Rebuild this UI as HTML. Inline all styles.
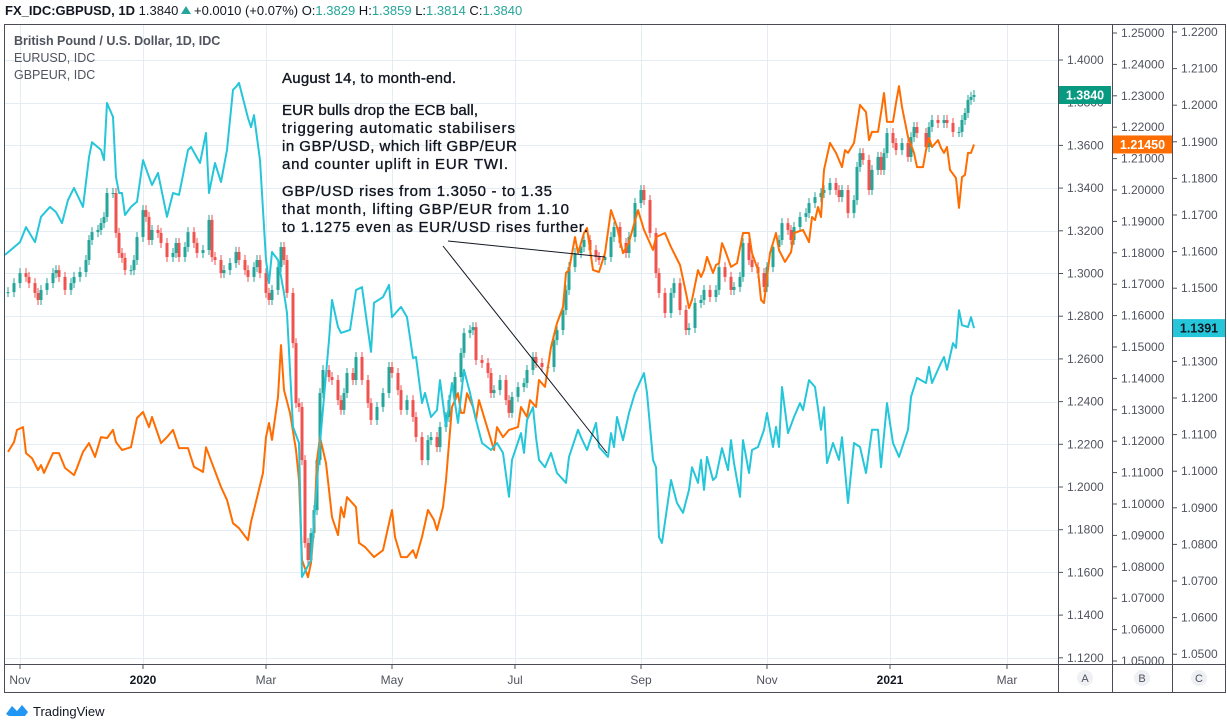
<!DOCTYPE html>
<html><head><meta charset="utf-8">
<style>
html,body{margin:0;padding:0;background:#fff;}
body{width:1227px;height:723px;overflow:hidden;font-family:"Liberation Sans",sans-serif;}
svg text{font-family:"Liberation Sans",sans-serif;}
</style></head>
<body>
<svg id="chart" width="1227" height="723" viewBox="0 0 1227 723" xmlns="http://www.w3.org/2000/svg">
  <g id="grid"></g>
  <g id="series"></g>
  <g id="frame">
    <rect x="4.5" y="24.5" width="1221" height="668" fill="none" stroke="#4a4d57" stroke-width="1"/>
    <line x1="1058.5" y1="24" x2="1058.5" y2="693" stroke="#4a4d57"/>
    <line x1="1112.5" y1="24" x2="1112.5" y2="693" stroke="#4a4d57"/>
    <line x1="1172.5" y1="24" x2="1172.5" y2="693" stroke="#4a4d57"/>
    <line x1="4" y1="664.5" x2="1226" y2="664.5" stroke="#4a4d57"/>
  </g>
  <g id="axes"></g>
  <g font-size="13">
    <text x="5" y="15" fill="#131722"><tspan font-weight="bold">FX_IDC:GBPUSD, 1D</tspan> 1.3840</text>
    <path d="M181 14 L186 6 L191 14 Z" fill="#26a69a"/>
    <text x="194" y="15" fill="#131722">+0.0010 (+0.07%) O:<tspan fill="#26a69a">1.3829</tspan> H:<tspan fill="#26a69a">1.3859</tspan> L:<tspan fill="#26a69a">1.3814</tspan> C:<tspan fill="#26a69a">1.3840</tspan></text>
  </g>
  <g font-size="12.5" fill="#50535e">
    <text x="14" y="45" font-weight="bold">British Pound / U.S. Dollar, 1D, IDC</text>
    <text x="14" y="62">EURUSD, IDC</text>
    <text x="14" y="79">GBPEUR, IDC</text>
  </g>
  <g font-size="15" fill="#131722" stroke="#131722" stroke-width="0.35" lengthAdjust="spacing">
    <text x="282" y="83" textLength="174">August 14, to month-end.</text>
    <text x="282" y="115" textLength="196">EUR bulls drop the ECB ball,</text>
    <text x="282" y="133" textLength="233">triggering automatic stabilisers</text>
    <text x="282" y="151" textLength="235">in GBP/USD, which lift GBP/EUR</text>
    <text x="282" y="169" textLength="226">and counter uplift in EUR TWI.</text>
    <text x="282" y="196" textLength="270">GBP/USD rises from 1.3050 - to 1.35</text>
    <text x="282" y="214" textLength="287">that month, lifting GBP/EUR from 1.10</text>
    <text x="282" y="232" textLength="306">to 1.1275 even as EUR/USD rises further.</text>
  </g>
  <g stroke="#131722" stroke-width="1">
    <line x1="448" y1="241" x2="605" y2="257"/>
    <line x1="443" y1="246" x2="607" y2="453"/>
  </g>
  <g>
    <path d="M6 714 L12 706 L17 711 L22 705 L28 712 L25 716 L9 716 Z" fill="#2196f3"/>
    <text x="33" y="716" font-size="13" fill="#131722">TradingView</text>
  </g>
</svg>
<script>
// GBPUSD candles (bar index, close)
const gbpIdx=[1,3,5,7,8,10,11,12,14,16,17,18,20,22,23,25,27,28,29,31,32,33,34,36,37,38,39,40,42,43,44,46,47,48,49,51,52,54,56,57,58,60,61,63,64,66,68,69,70,72,73,75,77,78,80,81,83,84,85,87,88,89,91,92,93,94,96,97,98,99,100,101,102,103,104,105,106,108,109,111,112,113,114,116,117,119,121,122,124,126,128,129,131,132,134,136,137,139,141,142,144,145,147,148,150,152,153,155,156,157,159,161,162,163,165,167,168,169,171,173,174,176,177,179,181,183,184,186,187,188,190,192,193,195,197,198,200,202,203,205,207,208,210,212,213,215,217,218,220,222,223,225,227,228,230,232,233,235,237,238,240,242,243,245,246,248,249,251,253,254,256,258,259,261,262,263,265,267,268,270,272,273,275,277,278,279,281,283,284,285,286,288,289,291,292,293,294,296,297,299,301,302,303,304,307,308,309,311,313,314,316,318,319,320,321,322,323];
const gbpClose=[1.2913,1.2955,1.3002,1.2984,1.2955,1.2909,1.2876,1.2923,1.2955,1.3002,1.3016,1.2984,1.2923,1.2955,1.2984,1.3007,1.3063,1.3157,1.3194,1.3204,1.3236,1.3265,1.3377,1.3377,1.3190,1.3096,1.3073,1.3016,1.3016,1.3063,1.3171,1.3297,1.3265,1.3157,1.3204,1.3190,1.3143,1.3077,1.3096,1.3143,1.3077,1.3124,1.3194,1.3143,1.3096,1.3110,1.3251,1.3077,1.3063,1.3002,1.3016,1.3049,1.3101,1.3063,1.3016,1.2984,1.3030,1.3063,1.3002,1.2909,1.2876,1.2923,1.3030,1.3124,1.3063,1.2909,1.2674,1.2393,1.2375,1.2126,1.1738,1.1658,1.1784,1.1892,1.2126,1.2440,1.2548,1.2515,1.2501,1.2407,1.2361,1.2440,1.2534,1.2501,1.2609,1.2501,1.2393,1.2314,1.2375,1.2440,1.2562,1.2534,1.2454,1.2361,1.2407,1.2328,1.2234,1.2126,1.2220,1.2234,1.2187,1.2281,1.2328,1.2407,1.2515,1.2628,1.2721,1.2735,1.2749,1.2595,1.2581,1.2534,1.2440,1.2454,1.2501,1.2407,1.2347,1.2422,1.2468,1.2487,1.2548,1.2609,1.2581,1.2562,1.2562,1.2688,1.2735,1.2829,1.2923,1.3030,1.3096,1.3124,1.3157,1.3110,1.3077,1.3063,1.3077,1.3171,1.3218,1.3143,1.3096,1.3171,1.3330,1.3391,1.3344,1.3190,1.3002,1.2909,1.2815,1.2909,1.2955,1.2829,1.2735,1.2745,1.2862,1.2876,1.2923,1.2890,1.2923,1.3030,1.2984,1.2923,1.2937,1.2984,1.3143,1.3063,1.3030,1.3002,1.2937,1.3030,1.3124,1.3157,1.3236,1.3204,1.3157,1.3218,1.3265,1.3283,1.3330,1.3358,1.3377,1.3391,1.3424,1.3391,1.3358,1.3391,1.3283,1.3344,1.3499,1.3564,1.3532,1.3391,1.3485,1.3546,1.3485,1.3564,1.3658,1.3611,1.3578,1.3611,1.3546,1.3639,1.3686,1.3658,1.3592,1.3686,1.3719,1.3705,1.3719,1.3705,1.3663,1.3663,1.3719,1.3752,1.3813,1.3827,1.3836];
// EURUSD line (orange)
const eurIdx=[1,3,4,6,7,9,11,12,13,16,18,20,23,24,26,28,30,32,34,36,37,39,42,44,46,48,49,52,54,56,58,61,63,65,66,67,69,72,74,76,78,81,82,83,86,87,88,89,91,92,93,95,97,98,99,101,102,103,104,105,107,108,109,111,112,113,114,117,118,120,123,126,129,130,132,134,136,137,139,141,143,144,146,147,149,151,152,153,154,156,157,158,160,162,163,164,166,168,171,172,174,175,177,178,180,182,184,186,187,188,190,191,193,194,196,198,200,202,204,206,208,211,213,216,217,220,222,225,227,228,229,231,232,233,234,236,237,238,239,240,242,244,246,248,249,251,252,253,255,257,258,260,262,263,266,268,269,270,271,272,273,275,277,279,280,281,283,285,287,288,289,291,292,293,294,296,297,298,299,301,303,304,306,307,308,309,311,312,313,314,315,317,318,319,320,321,322,323];
const eurVal=[1.1166,1.1197,1.1236,1.1245,1.1162,1.1146,1.1108,1.1124,1.1099,1.1162,1.1162,1.1115,1.1092,1.1115,1.1166,1.1194,1.1150,1.1213,1.1210,1.1236,1.1197,1.1172,1.1181,1.1274,1.1293,1.1245,1.1277,1.1194,1.1213,1.1236,1.1178,1.1178,1.1118,1.1108,1.1102,1.1181,1.1130,1.1054,1.1013,1.0939,1.0923,1.0885,1.0943,1.0981,1.1099,1.1213,1.1258,1.1204,1.1341,1.1506,1.1363,1.1290,1.1172,1.1076,1.0822,1.0767,1.0812,1.0927,1.1140,1.1213,1.1130,1.1045,1.0958,1.0901,1.0990,1.0958,1.1022,1.0990,1.0876,1.0863,1.0831,1.0853,1.0981,1.0895,1.0831,1.0831,1.0853,1.0828,1.0895,1.0981,1.0949,1.0917,1.0990,1.1076,1.1309,1.1353,1.1290,1.1290,1.1353,1.1309,1.1267,1.1331,1.1267,1.1204,1.1172,1.1245,1.1213,1.1236,1.1245,1.1309,1.1277,1.1331,1.1309,1.1395,1.1373,1.1500,1.1576,1.1627,1.1736,1.1745,1.1850,1.1799,1.1863,1.1879,1.1745,1.1739,1.1799,1.1936,1.1882,1.1799,1.1834,1.1936,1.1873,1.1809,1.1850,1.1863,1.1818,1.1761,1.1672,1.1624,1.1650,1.1745,1.1723,1.1745,1.1787,1.1736,1.1761,1.1767,1.1831,1.1809,1.1755,1.1767,1.1863,1.1863,1.1799,1.1745,1.1650,1.1640,1.1799,1.1863,1.1809,1.1771,1.1802,1.1863,1.1873,1.1834,1.1914,1.1904,1.1946,1.1914,1.2064,1.2150,1.2118,1.2073,1.2127,1.2118,1.2150,1.2271,1.2248,1.2159,1.2185,1.2185,1.2245,1.2309,1.2217,1.2217,1.2277,1.2331,1.2264,1.2169,1.2118,1.2073,1.2073,1.2127,1.2166,1.2137,1.2159,1.2134,1.2118,1.2137,1.2064,1.2038,1.1943,1.2041,1.2048,1.2118,1.2118,1.2145];
// GBPEUR line (cyan)
const gbeIdx=[0,5,7,10,12,15,17,19,21,23,26,28,29,32,33,34,36,37,38,39,40,42,44,46,48,49,51,54,56,58,61,62,65,67,68,70,72,74,76,77,78,81,82,83,85,87,88,89,91,93,94,96,98,99,102,105,108,109,111,112,115,117,119,122,123,126,128,129,132,134,136,137,139,140,142,144,145,147,149,151,153,155,157,159,162,164,166,168,169,172,173,174,176,177,178,180,182,184,187,188,191,192,194,197,198,201,202,203,204,206,208,210,213,214,216,217,218,219,222,224,226,228,229,231,232,233,234,236,237,239,241,242,243,245,246,248,249,251,253,254,256,257,258,259,261,263,265,266,268,270,272,273,274,276,278,279,281,283,285,287,289,291,292,294,296,298,301,302,304,307,308,309,312,313,314,316,317,318,319,321,322,323];
const gbeVal=[1.1591,1.1626,1.1667,1.1626,1.1695,1.1722,1.1708,1.1678,1.1741,1.1774,1.1722,1.1858,1.1899,1.1878,1.1850,1.2006,1.1968,1.1804,1.1760,1.1760,1.1700,1.1722,1.1736,1.1850,1.1804,1.1782,1.1815,1.1695,1.1760,1.1755,1.1878,1.1886,1.1842,1.1924,1.1760,1.1842,1.1790,1.1878,1.2042,1.2050,1.2061,1.1965,1.1940,1.1973,1.1850,1.1577,1.1514,1.1599,1.1577,1.1487,1.1432,1.1121,1.1077,1.0711,1.0757,1.1077,1.1358,1.1468,1.1394,1.1378,1.1386,1.1495,1.1503,1.1326,1.1460,1.1476,1.1509,1.1421,1.1449,1.1421,1.1309,1.1312,1.1186,1.1214,1.1148,1.1167,1.1249,1.1121,1.1241,1.1132,1.1277,1.1214,1.1140,1.1077,1.1058,1.1077,1.1050,1.0930,1.1031,1.1104,1.1050,1.1140,1.1175,1.1093,1.1031,1.1011,1.1050,1.0995,1.0968,1.1039,1.1113,1.1093,1.1058,1.1132,1.1066,1.1039,1.1104,1.1066,1.1148,1.1085,1.1159,1.1214,1.1268,1.1214,1.1031,1.1011,1.0820,1.0804,1.0976,1.0913,1.0886,1.0949,1.1011,1.0968,1.1031,1.0949,1.1039,1.0976,1.0984,1.1063,1.1003,1.1085,1.1022,1.0930,1.1085,1.0995,1.1058,1.1066,1.1113,1.1159,1.1066,1.1121,1.1066,1.1230,1.1104,1.1148,1.1186,1.1167,1.1249,1.1230,1.1113,1.1175,1.1022,1.1077,1.1031,1.1093,1.0913,1.1077,1.1066,1.0995,1.1113,1.1113,1.1011,1.1186,1.1077,1.1039,1.1113,1.1203,1.1255,1.1241,1.1285,1.1241,1.1296,1.1312,1.1277,1.1350,1.1337,1.1440,1.1399,1.1394,1.1421,1.1391];
const ticksA=["1.4000","1.3800","1.3600","1.3400","1.3200","1.3000","1.2800","1.2600","1.2400","1.2200","1.2000","1.1800","1.1600","1.1400","1.1200"];
const ticksB=["1.25000","1.24000","1.23000","1.22000","1.21000","1.20000","1.19000","1.18000","1.17000","1.16000","1.15000","1.14000","1.13000","1.12000","1.11000","1.10000","1.09000","1.08000","1.07000","1.06000","1.05000"];
const ticksC=["1.2200","1.2100","1.2000","1.1900","1.1800","1.1700","1.1600","1.1500","1.1400","1.1300","1.1200","1.1100","1.1000","1.0900","1.0800","1.0700","1.0600","1.0500"];
const monthLabels=["Nov","2020","Mar","May","Jul","Sep","Nov","2021","Mar"];
const monthBars=[5,46,87,129,170,212,254,295,334];

const NS="http://www.w3.org/2000/svg";
function mk(tag,attrs,parent){const e=document.createElementNS(NS,tag);for(const k in attrs)e.setAttribute(k,attrs[k]);parent.appendChild(e);return e;}
const xB=i=>5+i*3;
const yA=v=>60+(1.4-v)*2135;
const yB=v=>33+(1.25-v)*3140;
const yC=v=>32+(1.22-v)*3660;
const grid=document.getElementById('grid'),ser=document.getElementById('series'),ax=document.getElementById('axes');

ticksA.forEach(t=>{const y=Math.round(yA(+t))+0.5;const l=mk('line',{x1:5,x2:1058,y1:y,y2:y,stroke:'#e3edf3'},grid);

});
monthBars.forEach(b=>{const x=Math.round(xB(b))+0.5;const l=mk('line',{x1:x,x2:x,y1:25,y2:664,stroke:'#e3edf3'},grid);

});

const n=Math.min(gbpIdx.length,gbpClose.length);
for(let k=0;k<n;k++){
  const c=gbpClose[k],o=k>0?gbpClose[k-1]:c;
  const up=c>=o,col=up?'#26a69a':'#ef5350';
  const x=xB(gbpIdx[k]);
  const yt=yA(Math.max(o,c)),yb=yA(Math.min(o,c));
  const w=mk('line',{x1:x,x2:x,y1:yt-5,y2:yb+5,stroke:col,'stroke-width':1},ser);
  
  
  const r=mk('rect',{x:x-1.5,y:yt,width:3,height:Math.max(1,yb-yt),fill:col},ser);
  
  
}
function line(idx,vals,yf,col,name){
  const m=Math.min(idx.length,vals.length);let d='';
  for(let k=0;k<m;k++)d+=(k?'L':'M')+xB(idx[k]).toFixed(1)+' '+yf(vals[k]).toFixed(1);
  const p=mk('path',{d:d,fill:'none',stroke:col,'stroke-width':2,'stroke-linejoin':'round'},ser);
  
  
}
line(eurIdx,eurVal,yB,'#ff6d00','eurusd-line');
line(gbeIdx,gbeVal,yC,'#26c6da','gbpeur-line');

function axis(ticks,yf,x0,name){
  ticks.forEach(t=>{const y=yf(+t);if(y<28||y>662)return;
    mk('line',{x1:x0,x2:x0+4,y1:y,y2:y,stroke:'#50535e'},ax);
    const tx=mk('text',{x:x0+8,y:y+4,'font-size':12,fill:'#50535e'},ax);tx.textContent=t;
    
    });
}
axis(ticksA,yA,1059,'axis-a');
axis(ticksB,yB,1113,'axis-b');
axis(ticksC,yC,1173,'axis-c');
monthLabels.forEach((t,k)=>{const x=xB(monthBars[k]);
  mk('line',{x1:x,x2:x,y1:665,y2:669,stroke:'#50535e'},ax);
  const tx=mk('text',{x:x,y:684,'font-size':12,fill:(t.length===4?'#131722':'#50535e'),'text-anchor':'middle','font-weight':(t.length===4?'bold':'normal')},ax);tx.textContent=t;
  
  });
function badge(x,w,v,yf,bg,fg,txt,name){const y=yf(v);
  const g=mk('g',{},ax);
  
  
  mk('rect',{x:x,y:y-9,width:w,height:18,fill:bg},g);
  const t=mk('text',{x:x+w/2,y:y+4.5,'font-size':12.5,'font-weight':'bold',fill:fg,'text-anchor':'middle'},g);t.textContent=txt;}
badge(1059,52,gbpClose[n-1],yA,'#089981','#fff','1.3840','gbpusd-price-badge');
badge(1113,59,eurVal[eurVal.length-1],yB,'#ff6d00','#fff','1.21450','eurusd-price-badge');
badge(1173,52,gbeVal[gbeVal.length-1],yC,'#26c6da','#131722','1.1391','gbpeur-price-badge');
["A","B","C"].forEach((t,k)=>{const cx=[1085,1142,1199][k];
  const g=mk('g',{},ax);
  
  
  mk('circle',{cx:cx,cy:678,r:8,fill:'#eef0f3'},g);
  const tx=mk('text',{x:cx,y:682,'font-size':11,fill:'#50535e','text-anchor':'middle'},g);tx.textContent=t;});
</script>
</body></html>
